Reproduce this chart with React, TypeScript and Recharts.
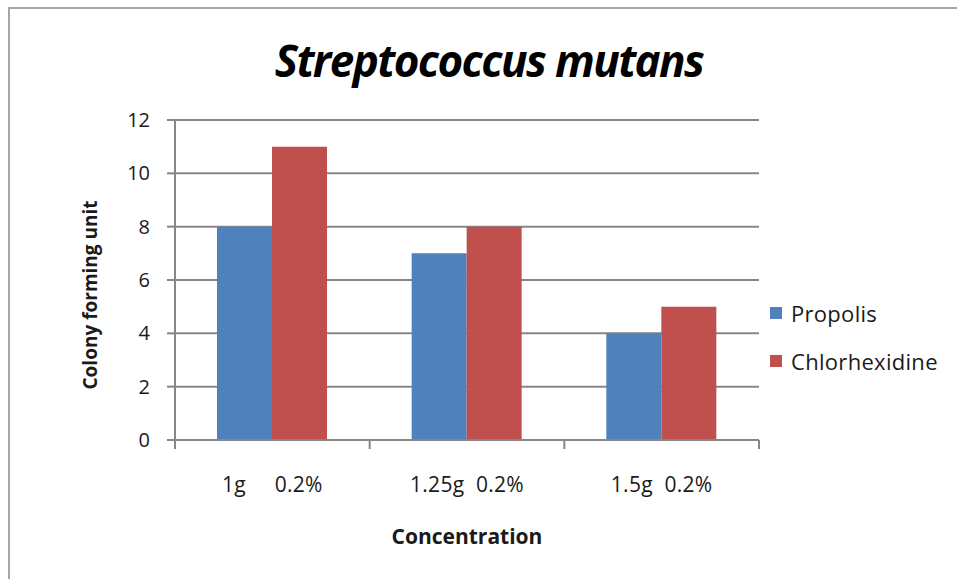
import { Bar, BarChart, CartesianGrid, XAxis, YAxis } from "recharts";

const categories = ["1g     0.2%", "1.25g  0.2%", "1.5g  0.2%"];
const propolis = [8, 7, 4];
const chlorhexidine = [11, 8, 5];
const yTicks = [0, 2, 4, 6, 8, 10, 12];
const seriesNames = ["Propolis", "Chlorhexidine"];
const seriesColors = ["#4F81BD", "#C0504D"];

const data = categories.map((c, i) => ({
  name: c,
  Propolis: propolis[i],
  Chlorhexidine: chlorhexidine[i],
}));

const FONT = "'Open Sans', 'Noto Sans', sans-serif";
const AXIS = "#868686";
const W = 957;
const H = 579;
const PLOT_LEFT = 175;
const PLOT_RIGHT = 759;
const BAND = (PLOT_RIGHT - PLOT_LEFT) / categories.length;

function XTick(props: any) {
  const { x, y, payload, index } = props;
  const left = x - BAND / 2;
  const right = x + BAND / 2;
  return (
    <g>
      <line x1={left} y1={y - 8} x2={left} y2={y + 1} stroke={AXIS} strokeWidth={2} />
      {index === categories.length - 1 && (
        <line x1={right} y1={y - 8} x2={right} y2={y + 1} stroke={AXIS} strokeWidth={2} />
      )}
      <text
        x={x}
        y={y + 44}
        textAnchor="middle"
        fill="#1a1a1a"
        fontSize={21}
        letterSpacing={0.3}
        fontFamily={FONT}
        style={{ whiteSpace: "pre" }}
      >
        {payload.value}
      </text>
    </g>
  );
}

function LegendBox() {
  return (
    <div
      style={{
        position: "absolute",
        left: 770,
        top: 301,
        fontFamily: FONT,
        fontSize: 22,
        letterSpacing: 0.3,
        color: "#1a1a1a",
      }}
    >
      {seriesNames.map((n, i) => (
        <div
          key={n}
          style={{ display: "flex", alignItems: "center", height: 24, marginBottom: i === 0 ? 24 : 0 }}
        >
          <span
            style={{ width: 12, height: 12, background: seriesColors[i], display: "inline-block", marginRight: 9 }}
          />
          {n}
        </div>
      ))}
    </div>
  );
}

export default function App() {
  return (
    <div
      style={{
        position: "absolute",
        left: 0,
        top: 0,
        width: W,
        height: H,
        background: "#fff",
        overflow: "hidden",
      }}
    >
      <div
        style={{
          position: "absolute",
          left: 8,
          top: 7,
          width: W + 20,
          height: H + 20,
          border: "2px solid #a6a6a6",
        }}
      />
      <div
        style={{
          position: "absolute",
          left: 0,
          top: 30,
          width: 978,
          textAlign: "center",
          fontFamily: FONT,
          fontWeight: 700,
          fontStyle: "italic",
          fontSize: 44,
          letterSpacing: -1.6,
          color: "#000",
        }}
      >
        Streptococcus mutans
      </div>
      <BarChart
        width={W}
        height={H}
        data={data}
        margin={{ top: 120, right: W - PLOT_RIGHT, bottom: 0, left: 0 }}
        barCategoryGap={42}
        barGap={0}
        style={{ position: "absolute", left: 0, top: 0 }}
      >
        <CartesianGrid horizontal vertical={false} stroke={AXIS} strokeWidth={2} />
        <XAxis
          dataKey="name"
          height={139}
          axisLine={{ stroke: AXIS, strokeWidth: 2 }}
          tickLine={false}
          tick={<XTick />}
          interval={0}
          label={(p: any) => {
            const vb = p.viewBox;
            return (
              <text
                x={vb.x + vb.width / 2}
                y={vb.y + 104}
                textAnchor="middle"
                fontFamily={FONT}
                fontWeight={700}
                fontSize={21}
                fill="#1a1a1a"
              >
                Concentration
              </text>
            );
          }}
        />
        <YAxis
          width={PLOT_LEFT}
          domain={[0, 12]}
          ticks={yTicks}
          interval={0}
          axisLine={{ stroke: AXIS, strokeWidth: 2 }}
          tickLine={{ stroke: AXIS, strokeWidth: 2 }}
          tickSize={8}
          tickMargin={17}
          tick={{ fill: "#1a1a1a", fontSize: 20, fontFamily: FONT }}
          label={(p: any) => {
            const vb = p.viewBox;
            const cy = vb.y + vb.height / 2 + 15;
            return (
              <text
                x={97}
                y={cy}
                textAnchor="middle"
                transform={`rotate(-90, 97, ${cy})`}
                fontFamily={FONT}
                fontWeight={700}
                fontSize={19}
                fill="#1a1a1a"
              >
                Colony forming unit
              </text>
            );
          }}
        />
        <Bar dataKey="Propolis" fill={seriesColors[0]} isAnimationActive={false} />
        <Bar dataKey="Chlorhexidine" fill={seriesColors[1]} isAnimationActive={false} />
      </BarChart>
      <LegendBox />
    </div>
  );
}
